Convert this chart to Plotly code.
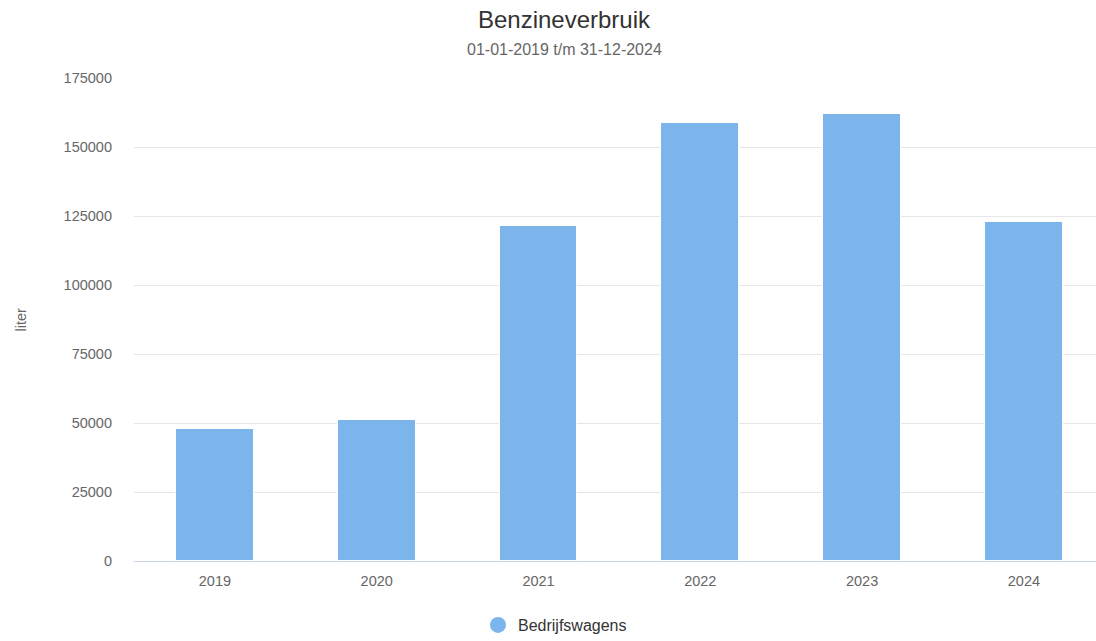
import plotly.graph_objects as go

years = ["2019", "2020", "2021", "2022", "2023", "2024"]
liters = [47800, 51000, 121400, 158700, 162000, 122800]
y_ticks = [0, 25000, 50000, 75000, 100000, 125000, 150000, 175000]
series_name = "Bedrijfswagens"
title_text = "Benzineverbruik"
subtitle_text = "01-01-2019 t/m 31-12-2024"
y_label = "liter"

W, H = 1096, 641
BAR = "#7cb5ec"
FONT = "Liberation Sans, Arial, Helvetica, sans-serif"
TICK = 14.5

fig = go.Figure()
fig.add_trace(go.Bar(
    x=list(range(len(years))), y=liters, name=series_name,
    marker=dict(color=BAR, line=dict(color="#ffffff", width=1)),
    width=0.48, showlegend=False, hoverinfo="skip",
))
fig.add_trace(go.Scatter(
    x=[None], y=[None], mode="markers", name=series_name,
    marker=dict(color=BAR, size=16, symbol="circle"), showlegend=True,
))

fig.update_layout(
    width=W, height=H,
    margin=dict(l=134, r=0, t=78, b=80, autoexpand=False),
    paper_bgcolor="#ffffff", plot_bgcolor="#ffffff",
    font=dict(family=FONT, color="#666666", size=TICK),
    title=dict(text=title_text, x=564 / W, xanchor="center", xref="container",
               y=1 - 20 / H, yanchor="middle", yref="container",
               font=dict(size=24, color="#333333", family=FONT)),
    xaxis=dict(
        range=[-0.5, -0.5 + 962 / 161.8],
        tickmode="array", tickvals=list(range(len(years))), ticktext=years,
        showgrid=False, zeroline=False, showline=True, linecolor="#ccd6eb",
        linewidth=1, ticks="", ticklabelstandoff=7,
        tickfont=dict(size=TICK, color="#666666"), fixedrange=True,
    ),
    yaxis=dict(
        range=[0, 175000], tickmode="array", tickvals=y_ticks,
        ticktext=[str(v) for v in y_ticks],
        showgrid=True, gridcolor="#e6e6e6", gridwidth=1, zeroline=False,
        showline=False, ticks="", ticklabelstandoff=21,
        tickfont=dict(size=TICK, color="#666666"), fixedrange=True,
    ),
    legend=dict(orientation="h", xref="container", x=555 / W, xanchor="center",
                yref="container", y=1 - 625 / H, yanchor="middle",
                font=dict(size=16, color="#333333"), itemsizing="trace"),
    annotations=[
        dict(text=subtitle_text, xref="paper", yref="paper", x=(564 - 134) / 962,
             y=1, yshift=29, xanchor="center", yanchor="middle", showarrow=False,
             font=dict(size=16, color="#666666", family=FONT)),
        dict(text=y_label, xref="paper", yref="paper", x=0, xshift=-114,
             y=0.5, xanchor="center", yanchor="middle", textangle=-90,
             showarrow=False, font=dict(size=TICK, color="#666666", family=FONT)),
    ],
    bargap=0,
    hovermode=False,
)

fig.write_html(
    "out.html",
    config={"displayModeBar": False},
    post_script="document.body.style.margin='0';document.body.style.overflow='hidden';",
)
